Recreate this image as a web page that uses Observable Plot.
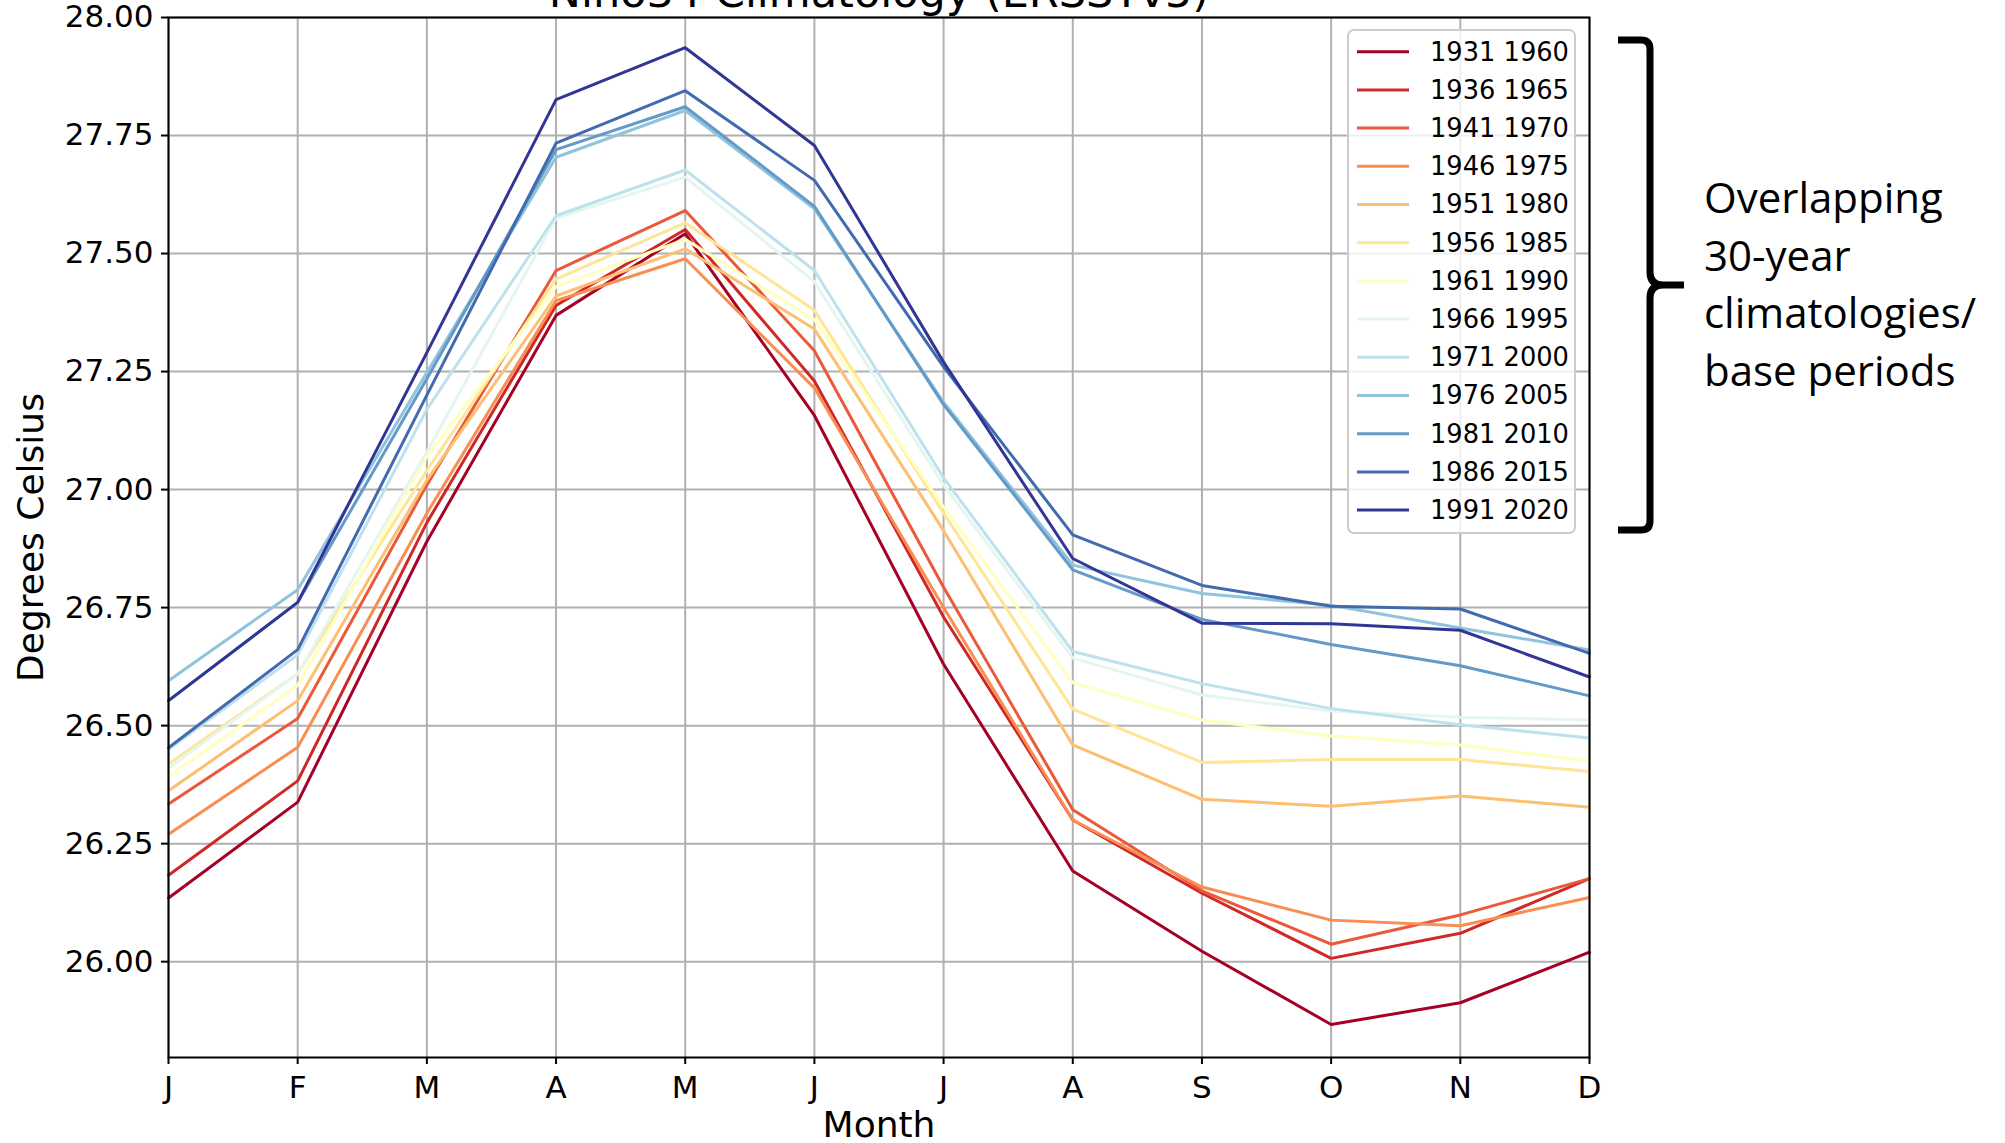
<!DOCTYPE html>
<html>
<head>
<meta charset="utf-8">
<script src="https://cdn.jsdelivr.net/npm/d3@7"></script>
<script src="https://cdn.jsdelivr.net/npm/@observablehq/plot@0.6"></script>
<style>
  html, body { margin: 0; padding: 0; background: #fff; }
  #wrap { position: relative; width: 2005px; height: 1143px; overflow: hidden; background: #fff; }
  #wrap > svg { position: absolute; left: 0; top: 0; }
</style>
</head>
<body>
<div id="wrap"></div>
<script>
// ---------------- data ----------------
const title = "Nino34 Climatology (ERSSTv5)";
const xLabel = "Month";
const yLabel = "Degrees Celsius";
const monthLabels = ["J", "F", "M", "A", "M", "J", "J", "A", "S", "O", "N", "D"];
const yTicks = [26.00, 26.25, 26.50, 26.75, 27.00, 27.25, 27.50, 27.75, 28.00];
const periods = ["1931 1960", "1936 1965", "1941 1970", "1946 1975", "1951 1980", "1956 1985",
                 "1961 1990", "1966 1995", "1971 2000", "1976 2005", "1981 2010", "1986 2015", "1991 2020"];

const p1931_1960 = [26.135, 26.338, 26.89, 27.369, 27.542, 27.157, 26.63, 26.192, 26.022, 25.867, 25.913, 26.02];
const p1936_1965 = [26.183, 26.383, 26.93, 27.39, 27.551, 27.23, 26.73, 26.30, 26.145, 26.007, 26.06, 26.176];
const p1941_1970 = [26.334, 26.515, 27.01, 27.464, 27.591, 27.294, 26.793, 26.322, 26.15, 26.037, 26.099, 26.176];
const p1946_1975 = [26.27, 26.454, 26.95, 27.40, 27.489, 27.215, 26.75, 26.30, 26.158, 26.088, 26.076, 26.136];
const p1951_1980 = [26.362, 26.553, 27.02, 27.41, 27.51, 27.34, 26.913, 26.459, 26.344, 26.329, 26.351, 26.327];
const p1956_1985 = [26.419, 26.61, 27.04, 27.446, 27.565, 27.38, 26.95, 26.535, 26.422, 26.428, 26.428, 26.403];
const p1961_1990 = [26.392, 26.585, 27.07, 27.43, 27.53, 27.36, 26.963, 26.591, 26.512, 26.478, 26.459, 26.425];
const p1966_1995 = [26.41, 26.61, 27.08, 27.575, 27.662, 27.44, 27.01, 26.643, 26.565, 26.531, 26.518, 26.512];
const p1971_2000 = [26.45, 26.65, 27.17, 27.58, 27.677, 27.464, 27.025, 26.657, 26.589, 26.536, 26.502, 26.474];
const p1976_2005 = [26.595, 26.788, 27.248, 27.704, 27.803, 27.595, 27.185, 26.84, 26.78, 26.755, 26.707, 26.66];
const p1981_2010 = [26.553, 26.761, 27.235, 27.72, 27.811, 27.60, 27.18, 26.83, 26.725, 26.672, 26.627, 26.563];
const p1986_2015 = [26.453, 26.661, 27.20, 27.734, 27.845, 27.655, 27.26, 26.904, 26.797, 26.753, 26.747, 26.653];
const p1991_2020 = [26.553, 26.761, 27.29, 27.826, 27.936, 27.729, 27.27, 26.854, 26.717, 26.716, 26.702, 26.603];

const seriesValues = [p1931_1960, p1936_1965, p1941_1970, p1946_1975, p1951_1980, p1956_1985,
                      p1961_1990, p1966_1995, p1971_2000, p1976_2005, p1981_2010, p1986_2015, p1991_2020];

const noteLines = ["Overlapping", "30-year", "climatologies/", "base periods"];

// ---------------- build ----------------
const rdylbu = d3.piecewise(d3.interpolateRgb, d3.schemeRdYlBu[11]);
const colors = periods.map((p, i) => rdylbu(i / (periods.length - 1)));

const rows = [];
periods.forEach((p, i) => seriesValues[i].forEach((v, m) => rows.push({period: p, m, v})));
const monthIdx = monthLabels.map((_, i) => i);

const chart = Plot.plot({
  width: 2005,
  height: 1143,
  marginLeft: 168,
  marginRight: 416,
  marginTop: 17,
  marginBottom: 86,
  style: {fontFamily: "'DejaVu Sans', sans-serif", background: "white", color: "black"},
  x: {type: "linear", domain: [0, 11]},
  y: {domain: [25.797, 28.0]},
  color: {domain: periods, range: colors},
  marks: [
    Plot.gridX(monthIdx, {stroke: "#b0b0b0", strokeOpacity: 1, strokeWidth: 2}),
    Plot.gridY(yTicks, {stroke: "#b0b0b0", strokeOpacity: 1, strokeWidth: 2}),
    Plot.line(rows, {x: "m", y: "v", z: "period", stroke: "period", strokeWidth: 3}),
    Plot.frame({stroke: "black", strokeWidth: 2}),
    Plot.axisX(monthIdx, {tickFormat: i => monthLabels[i], tickSize: 7, tickPadding: 11, fontSize: 31, strokeWidth: 2, label: null}),
    Plot.axisY(yTicks, {tickFormat: d => d.toFixed(2), tickSize: 7, tickPadding: 8, fontSize: 31, strokeWidth: 2, label: null}),
    Plot.text([title], {text: d => d, frameAnchor: "top", lineAnchor: "bottom", dy: -10.5, fontSize: 43}),
    Plot.text([xLabel], {text: d => d, frameAnchor: "bottom", lineAnchor: "bottom", dy: 79, fontSize: 36}),
    Plot.text([yLabel], {text: d => d, frameAnchor: "left", textAnchor: "middle", rotate: -90, dx: -137, fontSize: 36})
  ]
});
document.getElementById("wrap").appendChild(chart);

// ---------------- legend + annotation overlay ----------------
const ov = d3.select("#wrap").append("svg")
  .attr("width", 2005).attr("height", 1143)
  .style("pointer-events", "none");

const lg = ov.append("g");
lg.append("rect")
  .attr("x", 1348).attr("y", 30).attr("width", 227).attr("height", 503)
  .attr("rx", 6).attr("fill", "white").attr("fill-opacity", 0.8)
  .attr("stroke", "#cccccc").attr("stroke-width", 2);
periods.forEach((p, i) => {
  const cy = 51.7 + i * 38.2;
  lg.append("line").attr("x1", 1357).attr("x2", 1409).attr("y1", cy).attr("y2", cy)
    .attr("stroke", colors[i]).attr("stroke-width", 3);
  lg.append("text").attr("x", 1430).attr("y", cy).attr("dy", "0.35em")
    .attr("font-family", "'DejaVu Sans', sans-serif").attr("font-size", 25.7)
    .attr("fill", "#000").text(p);
});

ov.append("path")
  .attr("d", "M1618,40 H1641 Q1650,40 1650,49 V272 Q1650,285 1663,285 H1684 M1684,285 H1663 Q1650,285 1650,298 V521 Q1650,530 1641,530 H1618")
  .attr("fill", "none").attr("stroke", "black").attr("stroke-width", 7)
  .attr("stroke-linejoin", "round");

noteLines.forEach((t, i) => {
  ov.append("text").attr("x", 1704).attr("y", 213 + i * 57.7)
    .attr("font-family", "'Open Sans', sans-serif").attr("font-size", 42)
    .attr("fill", "#000").text(t);
});
</script>
</body>
</html>
